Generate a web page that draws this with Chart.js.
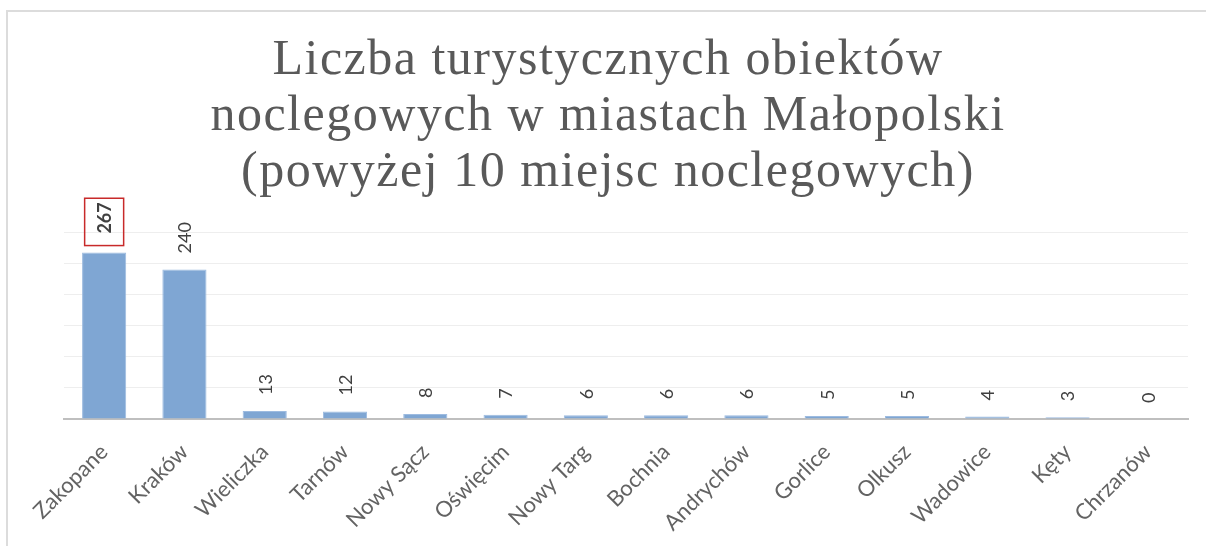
<!DOCTYPE html>
<html><head><meta charset="utf-8">
<script src="https://cdn.jsdelivr.net/npm/chart.js@4"></script>
<style>
html,body{margin:0;padding:0;background:#fff;}
#wrap{position:relative;width:1206px;height:546px;overflow:hidden;background:#fff;}
#frameL{position:absolute;left:6px;top:10px;width:2px;height:536px;background:#dcdcdc;}
#frameT{position:absolute;left:6px;top:10px;width:1200px;height:2px;background:#dcdcdc;}
canvas{position:absolute;left:0;top:0;}
</style></head><body>
<div id="wrap"><canvas id="c" width="1206" height="546"></canvas><div id="frameL"></div><div id="frameT"></div></div>
<script>
const categories = ['Zakopane','Kraków','Wieliczka','Tarnów','Nowy Sącz','Oświęcim','Nowy Targ','Bochnia','Andrychów','Gorlice','Olkusz','Wadowice','Kęty','Chrzanów'];
const values = [267,240,13,12,8,7,6,6,6,5,5,4,3,0];
const titleLines = ['Liczba turystycznych obiektów','noclegowych w miastach Małopolski','(powyżej 10 miejsc noclegowych)'];
const highlightIndex = 0;
const yMin = 0, yMax = 300, yStep = 50;

const labelPlugin = {
  id: 'vlabels',
  afterDatasetsDraw(chart) {
    const ctx = chart.ctx;
    const meta = chart.getDatasetMeta(0);
    meta.data.forEach((bar, i) => {
      const hl = i === highlightIndex;
      const txt = String(values[i]);
      ctx.save();
      ctx.translate(bar.x, bar.y - (hl ? 19 : 16));
      ctx.rotate(-Math.PI / 2);
      ctx.font = (hl ? 'bold ' : '') + '18px Lato';
      ctx.fillStyle = '#404040';
      ctx.textAlign = 'left';
      ctx.textBaseline = 'middle';
      ctx.fillText(txt, 0, 1);
      if (hl) {
        const w = ctx.measureText(txt).width;
        ctx.strokeStyle = '#c82a2a';
        ctx.lineWidth = 1.5;
        ctx.strokeRect(-12, -19.5, w + 16, 39);
      }
      ctx.restore();
    });
  }
};

const titleSpacingPlugin = {
  id: 'titleSpacing',
  afterLayout(chart) {
    const tb = chart.titleBlock;
    if (tb && !tb._spaced) {
      const orig = tb.draw;
      tb.draw = function (...args) {
        const ctx = this.ctx;
        const prev = ctx.letterSpacing;
        ctx.letterSpacing = '1.5px';
        orig.apply(this, args);
        ctx.letterSpacing = prev || '0px';
      };
      tb._spaced = true;
    }
  }
};

new Chart(document.getElementById('c'), {
  type: 'bar',
  data: {
    labels: categories,
    datasets: [{
      data: values,
      backgroundColor: '#7fa6d3',
      borderColor: '#9dbbe0',
      borderWidth: 1,
      barPercentage: 0.55,
      categoryPercentage: 1.0
    }]
  },
  options: {
    responsive: false,
    animation: false,
    devicePixelRatio: 1,
    layout: { padding: { left: 28, right: 18, top: 0, bottom: 0 } },
    plugins: {
      legend: { display: false },
      tooltip: { enabled: false },
      title: {
        display: true,
        text: titleLines,
        color: '#595959',
        font: { family: 'Liberation Serif', size: 50, weight: 'normal', lineHeight: 1.12 },
        padding: { top: 33, bottom: 31 }
      }
    },
    scales: {
      y: {
        min: yMin, max: yMax,
        ticks: { display: false, stepSize: yStep },
        grid: { color: '#eeeeee', lineWidth: 1, drawTicks: false },
        border: { display: false },
        afterFit(s) { s.width = 36; }
      },
      x: {
        grid: { display: false },
        border: { display: true, color: '#bfbfbf', width: 2 },
        ticks: {
          autoSkip: false, maxRotation: 45, minRotation: 45,
          color: '#636363', font: { family: 'Lato', size: 22 }, padding: 12
        },
        afterFit(s) { s.height = 127; s.paddingLeft = 0; s.paddingRight = 0; }
      }
    }
  },
  plugins: [labelPlugin, titleSpacingPlugin]
});
</script>
</body></html>
